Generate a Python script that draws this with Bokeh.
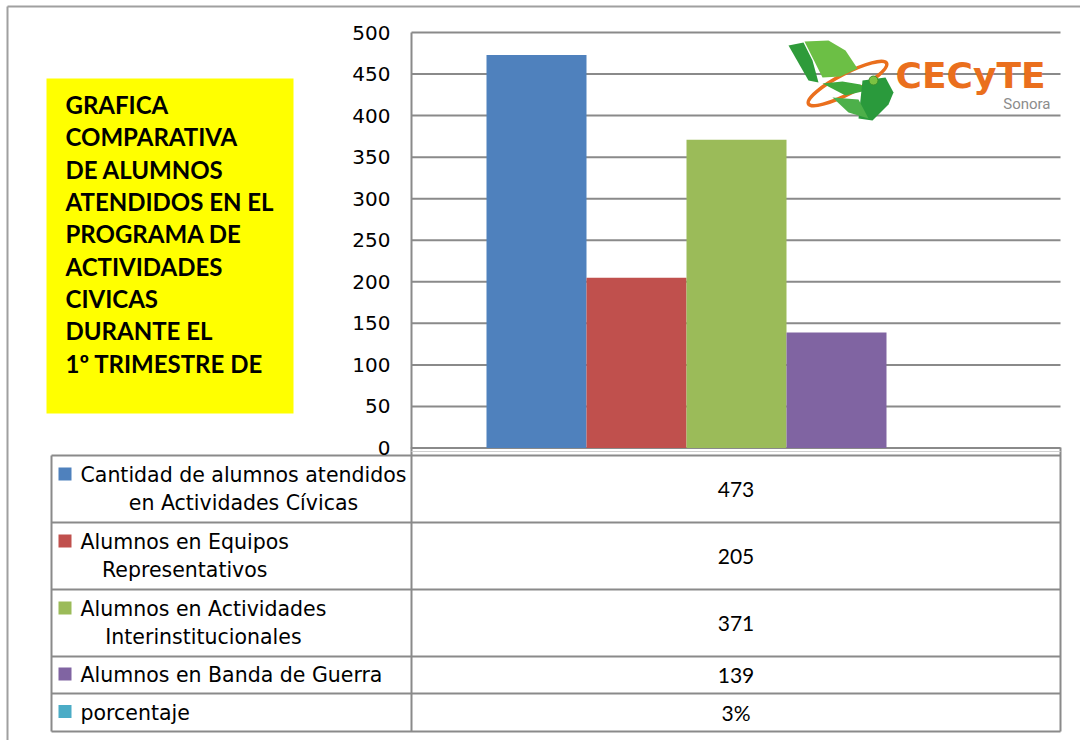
from bokeh.plotting import figure
from bokeh.models import Range1d, LinearAxis, FixedTicker
from bokeh.core.properties import value
from bokeh.embed import file_html
from bokeh.resources import INLINE

# ---------------- data ----------------
series_names = [
    "Cantidad de alumnos atendidos\nen Actividades Cívicas",
    "Alumnos en Equipos\nRepresentativos",
    "Alumnos en Actividades\nInterinstitucionales",
    "Alumnos en Banda de Guerra",
    "porcentaje",
]
series_values = [473, 205, 371, 139, 0.03]
table_labels = ["473", "205", "371", "139", "3%"]
series_colors = ["#4F81BD", "#C0504D", "#9BBB59", "#8064A2", "#4BACC6"]
y_ticks = [0, 50, 100, 150, 200, 250, 300, 350, 400, 450, 500]
title_lines = [
    "GRAFICA", "COMPARATIVA", "DE ALUMNOS", "ATENDIDOS EN EL",
    "PROGRAMA DE", "ACTIVIDADES", "CIVICAS", "DURANTE EL", "1º TRIMESTRE DE",
]

# ---------------- layout helpers (screen pixel -> canvas data) ----------------
W, H = 1080, 740
OFF = 0
def X(px):
    return px - OFF
def Y(py):
    return py - OFF

PLOT_L, PLOT_R = 411, 1060
ZERO_Y, TOP_Y = 447.5, 32
k = (ZERO_Y - TOP_Y) / 500.0
BAR0_X, BAR_STEP = 536, 100

p = figure(width=W, height=H, x_range=Range1d(0, W), y_range=Range1d(H, 0),
           output_backend="svg", toolbar_location=None,
           x_axis_type=None, y_axis_type=None, min_border=0,
           outline_line_color=None, background_fill_color="white",
           border_fill_color="white")
p.extra_y_ranges = {"val": Range1d((ZERO_Y - (OFF + H)) / k, (ZERO_Y - OFF) / k)}
p.extra_x_ranges = {"cat": Range1d((OFF - BAR0_X) / BAR_STEP, (OFF + W - BAR0_X) / BAR_STEP)}

GRID = "#8a8a8a"

# outer chart border
p.segment(x0=[X(7), X(7)], y0=[Y(6), Y(6)], x1=[X(1080), X(7)], y1=[Y(6), Y(740)],
          line_color="#a0a0a0", line_width=2)

# yellow title box
p.quad(left=[X(46)], right=[X(293)], top=[Y(78)], bottom=[Y(413)],
       fill_color="#FFFF00", line_color=None)
p.text(x=[X(65)] * len(title_lines),
       y=[Y(104 + 32.35 * i) for i in range(len(title_lines))],
       text=title_lines, text_font=value("Lato"), text_font_style="bold",
       text_font_size="24px", text_baseline="middle", text_align="left",
       text_color="black")

# gridlines (value range)
p.segment(x0=[X(PLOT_L)] * len(y_ticks), x1=[X(PLOT_R)] * len(y_ticks),
          y0=y_ticks, y1=y_ticks, y_range_name="val",
          line_color=GRID, line_width=2)

# bars
idx = list(range(len(series_values)))
p.vbar(x=idx, top=series_values, bottom=0, width=1.0, x_range_name="cat",
       y_range_name="val", fill_color=series_colors, line_color=None)

# y axis
yaxis = LinearAxis(y_range_name="val", ticker=FixedTicker(ticks=y_ticks),
                   fixed_location=X(PLOT_L), bounds=(0, 500),
                   axis_line_color=GRID, axis_line_width=2,
                   major_tick_line_color=None, minor_tick_line_color=None,
                   major_label_standoff=15,
                   major_label_text_font="DejaVu Sans",
                   major_label_text_font_size="20px",
                   major_label_text_color="black")
p.add_layout(yaxis, "left")

# data table
row_y = [455, 522, 589, 656, 693, 731]
TBL_L = 51
p.segment(x0=[X(TBL_L)] * len(row_y), x1=[X(PLOT_R)] * len(row_y),
          y0=[Y(v) for v in row_y], y1=[Y(v) for v in row_y],
          line_color=GRID, line_width=2)
p.segment(x0=[X(TBL_L), X(PLOT_L), X(PLOT_R)], x1=[X(TBL_L), X(PLOT_L), X(PLOT_R)],
          y0=[Y(455), Y(447), Y(447)], y1=[Y(731), Y(731), Y(731)],
          line_color=GRID, line_width=2)
p.segment(x0=[X(PLOT_L)], x1=[X(PLOT_R)], y0=[Y(451)], y1=[Y(451)],
          line_color="#cfcfcf", line_width=1)

centers = [(row_y[i] + row_y[i + 1]) / 2 for i in range(len(series_names))]
nlines = [s.count("\n") + 1 for s in series_names]
sq_c = [c - (n - 1) * 14 - 1 for c, n in zip(centers, nlines)]
p.quad(left=[X(58)] * len(sq_c), right=[X(71)] * len(sq_c),
       top=[Y(c - 6.5) for c in sq_c], bottom=[Y(c + 6.5) for c in sq_c],
       fill_color=series_colors, line_color=None)
p.text(x=[X(80)] * len(series_names), y=[Y(c) for c in centers], text=series_names,
       anchor="center_left", text_align="center", text_line_height=1.2,
       text_font=value("DejaVu Sans"), text_font_size="20.5px", text_color="black")
p.text(x=[X((PLOT_L + PLOT_R) / 2)] * len(table_labels), y=[Y(c) for c in centers],
       text=table_labels, text_align="center", text_baseline="middle",
       text_font=value("Lato"), text_font_size="21px", text_color="black")

# logo (decoration)
p.ellipse(x=[X(847)], y=[Y(83)], width=88, height=20, angle=0.48,
          fill_color=None, line_color="#EA6F1D", line_width=3.5)
leaf_xs = [
    [788, 803, 812, 818, 808],
    [804, 828, 845, 857, 840, 822],
    [822, 842, 860, 866, 845],
    [862, 885, 893, 888, 872, 858],
    [832, 858, 868, 848],
]
leaf_ys = [
    [45, 42, 60, 82, 80],
    [41, 40, 50, 68, 76, 77],
    [83, 81, 84, 90, 95],
    [80, 77, 92, 104, 120, 118],
    [97, 99, 118, 112],
]
p.patches(xs=[[X(a) for a in s] for s in leaf_xs], ys=[[Y(b) for b in s] for s in leaf_ys],
          fill_color=["#2E9B3A", "#6CBF45", "#3FA83C", "#2A9A3C", "#4DB04A"],
          line_color=None)
p.scatter(x=[X(873)], y=[Y(80)], size=9, fill_color="#7CC242", line_color="#3A8F2E")
p.text(x=[X(895)], y=[Y(75)], text=["CECyTE"], text_font=value("DejaVu Sans"),
       text_font_style="bold", text_font_size="36px", text_color="#EA6F1D",
       text_baseline="middle")
p.text(x=[X(1050)], y=[Y(103)], text=["Sonora"], text_font=value("Roboto"),
       text_font_size="15px", text_color="#8C8C8C", text_align="right",
       text_baseline="middle")

open("out.html", "w").write(file_html(p, INLINE, title="Grafica"))
